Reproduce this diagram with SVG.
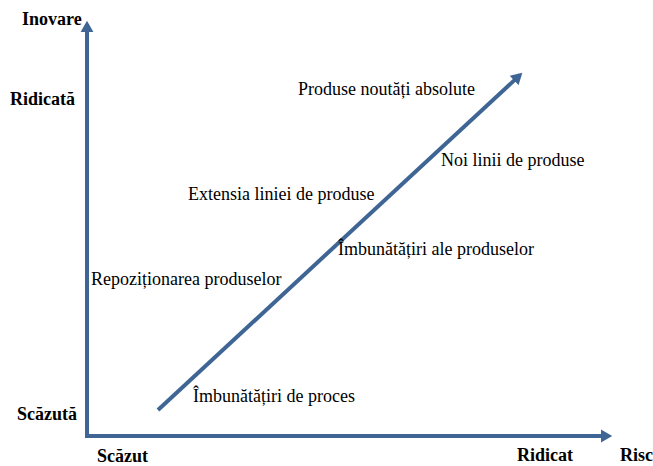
<svg xmlns="http://www.w3.org/2000/svg" width="653" height="466" viewBox="0 0 653 466">
<style>
text{font-family:'Liberation Serif','Tinos','DejaVu Serif',serif;font-size:18px;fill:#000}
.b{font-weight:bold}
.ax{stroke:#3e6594;stroke-width:4;fill:none}
</style>
<defs>
<marker id="ah" markerWidth="4" markerHeight="4" refX="2" refY="2" orient="auto" markerUnits="strokeWidth">
<path d="M0,0.4 L2.8,2 L0,3.6 Z" fill="#3e6594"/>
</marker>
</defs>
<rect width="653" height="466" fill="#fff"/>
<g id="connectors">
<line class="ax" x1="87" y1="438" x2="87" y2="24" marker-end="url(#ah)"/>
<line class="ax" x1="85" y1="436" x2="609" y2="436" marker-end="url(#ah)"/>
<line class="ax" x1="158" y1="410" x2="520" y2="75" marker-end="url(#ah)"/>
</g>
<g id="axis-labels">
<text class="b" x="22" y="25">Inovare</text>
<text class="b" x="10" y="105">Ridicată</text>
<text class="b" x="17" y="420">Scăzută</text>
<text class="b" x="97" y="462">Scăzut</text>
<text class="b" x="517" y="461">Ridicat</text>
<text class="b" x="620" y="461">Risc</text>
</g>
<g id="n1"><text x="298" y="95">Produse noutăți absolute</text></g>
<g id="n2"><text x="441" y="166">Noi linii de produse</text></g>
<g id="n3"><text x="188" y="200">Extensia liniei de produse</text></g>
<g id="n4"><text x="338" y="255">Îmbunătățiri ale produselor</text></g>
<g id="n5"><text x="91" y="285">Repoziționarea produselor</text></g>
<g id="n6"><text x="193" y="402">Îmbunătățiri de proces</text></g>
</svg>
